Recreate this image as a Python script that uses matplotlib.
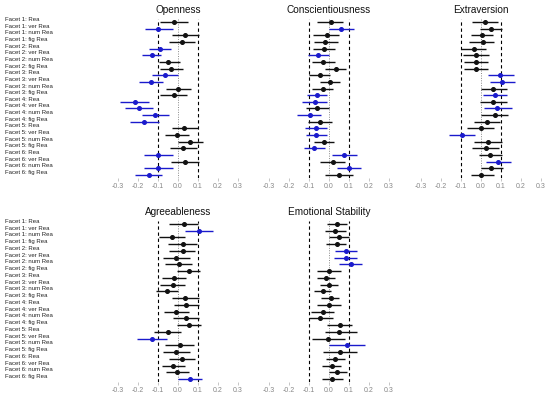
import matplotlib
matplotlib.use("Agg")
import matplotlib.pyplot as plt
import matplotlib.transforms as mtransforms
import numpy as np

plt.rcParams['font.family'] = ['Liberation Sans', 'DejaVu Sans']

row_labels = [f"Facet {f}: {k}" for f in range(1, 7) for k in ["Rea", "ver Rea", "num Rea", "fig Rea"]]
xticks = [-0.3, -0.2, -0.1, 0.0, 0.1, 0.2, 0.3]
xtick_labels = ["-0.3", "-0.2", "-0.1", "0.0", "0.1", "0.2", "0.3"]

# Openness
open_est = [-0.022, -0.100, 0.033, 0.022, -0.092, -0.130, -0.048, -0.037, -0.067, -0.135, 0.000, -0.020,
            -0.213, -0.197, -0.113, -0.172, 0.030, -0.005, 0.058, 0.025, -0.102, 0.037, -0.102, -0.147]
open_lo = [-0.088, -0.163, -0.030, -0.047, -0.143, -0.180, -0.097, -0.092, -0.130, -0.193, -0.060, -0.088,
           -0.288, -0.267, -0.180, -0.238, -0.030, -0.063, 0.000, -0.038, -0.172, -0.033, -0.172, -0.213]
open_hi = [0.050, -0.027, 0.103, 0.087, -0.033, -0.083, 0.008, 0.023, 0.000, -0.075, 0.065, 0.045,
           -0.147, -0.125, -0.043, -0.093, 0.098, 0.055, 0.125, 0.095, -0.027, 0.105, -0.025, -0.080]
open_sig = [0, 1, 0, 0, 1, 1, 0, 0, 1, 1, 0, 0, 1, 1, 1, 1, 0, 0, 0, 0, 1, 0, 1, 1]

# Conscientiousness
cons_est = [0.012, 0.062, -0.008, -0.018, -0.025, -0.053, -0.028, 0.033, -0.045, 0.003, -0.030, -0.058,
            -0.070, -0.060, -0.095, -0.045, -0.067, -0.065, -0.027, -0.073, 0.073, 0.020, 0.100, 0.052]
cons_lo = [-0.058, 0.000, -0.080, -0.077, -0.080, -0.105, -0.085, -0.018, -0.100, -0.043, -0.083, -0.110,
           -0.135, -0.113, -0.158, -0.105, -0.118, -0.115, -0.077, -0.125, 0.015, -0.047, 0.040, -0.018]
cons_hi = [0.070, 0.125, 0.048, 0.045, 0.028, 0.000, 0.028, 0.087, 0.003, 0.055, 0.022, -0.008,
           -0.012, 0.000, -0.038, 0.015, -0.012, -0.008, 0.023, -0.020, 0.140, 0.082, 0.162, 0.120]
cons_sig = [0, 1, 0, 0, 0, 1, 0, 0, 0, 0, 0, 1, 1, 0, 1, 0, 1, 1, 0, 1, 1, 0, 1, 0]

# Extraversion
extr_est = [0.020, 0.050, 0.005, 0.008, -0.037, -0.023, -0.023, -0.023, 0.097, 0.107, 0.062, 0.068,
            0.060, 0.082, 0.068, 0.030, 0.000, -0.095, 0.035, 0.023, 0.045, 0.083, 0.052, 0.000]
extr_lo = [-0.047, -0.005, -0.050, -0.062, -0.100, -0.090, -0.083, -0.083, 0.033, 0.047, 0.000, 0.008,
           -0.003, 0.017, 0.000, -0.033, -0.070, -0.160, -0.033, -0.045, -0.010, 0.025, -0.002, -0.052]
extr_hi = [0.083, 0.105, 0.058, 0.067, 0.025, 0.038, 0.035, 0.035, 0.165, 0.170, 0.128, 0.130,
           0.130, 0.153, 0.135, 0.097, 0.067, -0.028, 0.103, 0.092, 0.103, 0.148, 0.112, 0.065]
extr_sig = [0, 0, 0, 0, 0, 0, 0, 0, 1, 1, 0, 1, 0, 1, 0, 0, 0, 1, 0, 0, 0, 1, 0, 0]

# Agreeableness
agre_est = [0.032, 0.107, -0.028, 0.023, 0.023, -0.008, 0.005, 0.053, -0.020, -0.027, -0.057, 0.037,
            0.042, -0.010, 0.038, 0.053, -0.050, -0.130, 0.008, -0.008, 0.022, -0.023, -0.003, 0.060]
agre_lo = [-0.047, 0.037, -0.097, -0.050, -0.043, -0.075, -0.065, -0.005, -0.082, -0.088, -0.110, -0.030,
           -0.022, -0.072, -0.025, -0.005, -0.118, -0.205, -0.063, -0.077, -0.043, -0.080, -0.060, 0.000]
agre_hi = [0.100, 0.175, 0.033, 0.095, 0.087, 0.058, 0.070, 0.112, 0.038, 0.037, 0.000, 0.103,
           0.107, 0.053, 0.105, 0.115, 0.015, -0.055, 0.078, 0.060, 0.087, 0.033, 0.053, 0.120]
agre_sig = [0, 1, 0, 0, 0, 0, 0, 0, 0, 0, 0, 0, 0, 0, 0, 0, 0, 1, 0, 0, 0, 0, 0, 1]

# Emotional Stability
emot_est = [0.042, 0.032, 0.050, 0.038, 0.087, 0.083, 0.108, 0.002, -0.013, 0.000, -0.032, 0.010,
            0.000, -0.032, -0.043, 0.053, 0.052, -0.007, 0.088, 0.055, 0.032, 0.013, 0.042, 0.017]
emot_lo = [-0.012, -0.022, -0.002, -0.017, 0.032, 0.027, 0.050, -0.058, -0.058, -0.045, -0.077, -0.038,
           -0.058, -0.090, -0.102, -0.012, -0.022, -0.083, 0.002, -0.030, -0.015, -0.037, 0.000, -0.033]
emot_hi = [0.092, 0.085, 0.102, 0.085, 0.140, 0.138, 0.165, 0.062, 0.032, 0.043, 0.008, 0.052,
           0.060, 0.027, 0.020, 0.113, 0.138, 0.080, 0.178, 0.140, 0.080, 0.060, 0.088, 0.068]
emot_sig = [0, 0, 0, 0, 1, 1, 1, 0, 0, 0, 0, 0, 0, 0, 0, 0, 0, 0, 1, 0, 0, 0, 0, 0]

panels = [
    ("Openness", open_est, open_lo, open_hi, open_sig),
    ("Conscientiousness", cons_est, cons_lo, cons_hi, cons_sig),
    ("Extraversion", extr_est, extr_lo, extr_hi, extr_sig),
    ("Agreeableness", agre_est, agre_lo, agre_hi, agre_sig),
    ("Emotional Stability", emot_est, emot_lo, emot_hi, emot_sig),
]

W, H = 550, 396
fig = plt.figure(figsize=(W / 100, H / 100), dpi=100)

# axes boxes in pixels: left, top, width, bottom
XMIN, XMAX = -0.32, 0.32
ax_w = (XMAX - XMIN) * 200
lefts = [114, 265, 417, 114, 265]
tops = [18.7, 18.7, 18.7, 220.6, 220.6]
bottoms = [178.3, 178.3, 178.3, 382.4, 382.4]

BLUE = "#1a1acc"
BLACK = "#111111"
n = len(row_labels)
ypos = np.arange(1, n + 1)

for i, (title, est, lo, hi, sig) in enumerate(panels):
    l, t, b = lefts[i], tops[i], bottoms[i]
    ax = fig.add_axes([l / W, 1 - b / H, ax_w / W, (b - t) / H])
    ax.set_xlim(XMIN, XMAX)
    ax.set_ylim(n + 0.5, 0.5)
    ax.axvline(-0.1, color="black", lw=0.8, ls=(0, (3, 2.5)), zorder=1)
    ax.axvline(0.1, color="black", lw=0.8, ls=(0, (3, 2.5)), zorder=1)
    ax.axvline(0.0, color="#888888", lw=0.7, ls=(0, (1, 1.5)), zorder=1)
    for y, e, a, c, s in zip(ypos, est, lo, hi, sig):
        col = BLUE if s else BLACK
        ax.plot([a, c], [y, y], color=col, lw=1.0, solid_capstyle="butt", zorder=2)
        ax.plot([e], [y], "o", color=col, ms=2.6, zorder=3)
    for sp in ax.spines.values():
        sp.set_visible(False)
    ax.set_yticks([])
    ax.set_xticks(xticks)
    ax.set_xticklabels(xtick_labels)
    ax.tick_params(axis="x", length=2, width=0.6, color="#bbbbbb", labelcolor="#888888",
                   labelsize=5, pad=1.5)
    ax.set_title(title, fontsize=7.2, pad=4, color="#111111")
    ax.patch.set_visible(False)
    if i in (0, 3):
        trans = mtransforms.blended_transform_factory(fig.transFigure, ax.transData)
        off = mtransforms.ScaledTranslation(0, 2.5 / 100, fig.dpi_scale_trans)
        for y, lab in zip(ypos, row_labels):
            ax.text(5 / W, y, lab, transform=trans + off, ha="left", va="center",
                    fontsize=4.3, color="#222222")

fig.savefig("out.png", dpi=100)
